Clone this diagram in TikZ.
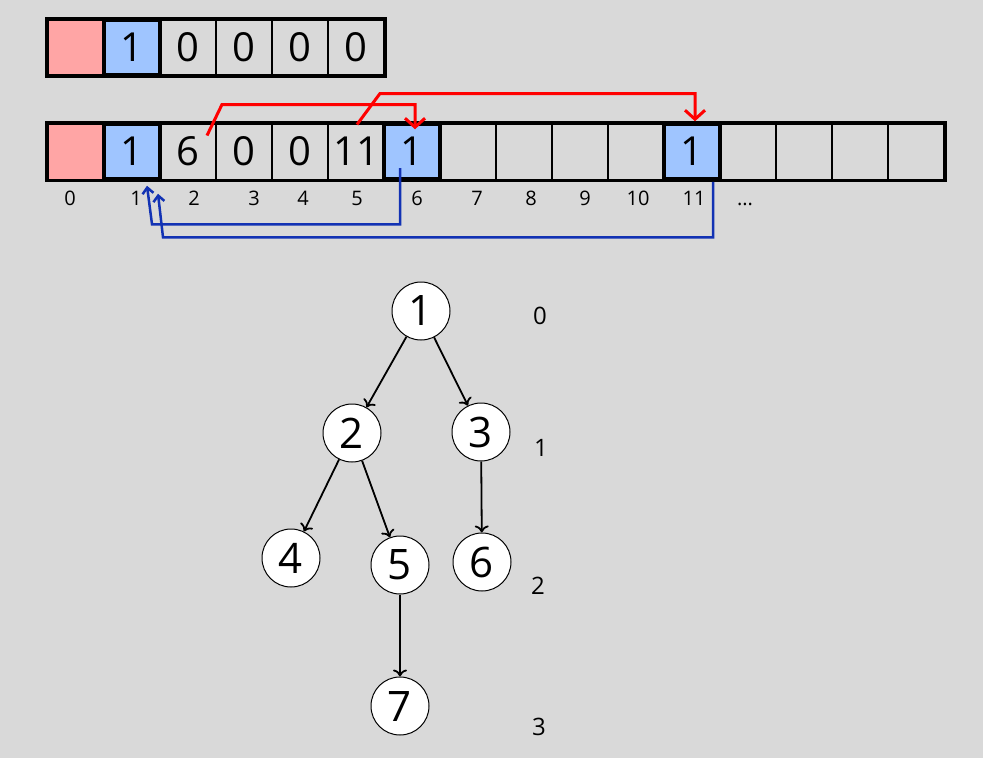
\documentclass[tikz,border=0pt]{standalone}
\usepackage{fontspec}
\setmainfont{Open Sans}
\usepackage{tikz}
\usetikzlibrary{arrows.meta,positioning,calc}
\definecolor{cbg}{HTML}{D9D9D9}
\definecolor{cfree}{HTML}{FFA5A5}
\definecolor{cset}{HTML}{9FC5FF}
\definecolor{cfwd}{HTML}{FF0000}
\definecolor{cback}{HTML}{1232B4}
\tikzset{
  cell/.style={draw, line width=2pt, minimum width=56pt, minimum height=56pt,
               inner sep=0pt, font=\fontsize{40}{41}\selectfont},
  freecell/.style={cell, fill=cfree},
  setcell/.style={cell, fill=cset, line width=4.5pt},
  idx/.style={font=\fontsize{20}{21}\selectfont},
  tnode/.style={circle, draw, fill=white, line width=1pt, minimum size=58pt,
                inner sep=0pt, font=\fontsize{42}{43}\selectfont},
  lvl/.style={font=\fontsize{24}{25}\selectfont},
  fwd/.style={-{Straight Barb[length=9pt,width=20pt]}, draw=cfwd, line width=3pt},
  back/.style={-{Straight Barb[length=6pt,width=11pt]}, draw=cback, line width=2.5pt},
  tedge/.style={-{To[length=7pt,width=14pt]}, line width=1.8pt},
}
\begin{document}
\begin{tikzpicture}[x=1pt, y=-1pt]
  \path[use as bounding box, fill=cbg] (0,0) rectangle (983,758);
  % short array
  \foreach \i/\v/\s in {0/{}/freecell, 1/1/setcell, 2/0/cell, 3/0/cell, 4/0/cell, 5/0/cell}
    \node[\s, minimum height=55pt] (t\i) at (76+56*\i, 47.5) {\v};
  \draw[line width=3.5pt] (t0.north west) rectangle (t5.south east);
  % grown array
  \foreach \i/\v/\s in {0/{}/freecell, 1/1/setcell, 2/6/cell, 3/0/cell, 4/0/cell, 5/11/cell,
                        6/1/setcell, 7/{}/cell, 8/{}/cell, 9/{}/cell, 10/{}/cell, 11/1/setcell,
                        12/{}/cell, 13/{}/cell, 14/{}/cell, 15/{}/cell}
    \node[\s] (c\i) at (76+56*\i, 151.5) {\v};
  \draw[line width=3.5pt] (c0.north west) rectangle (c15.south east);
  \foreach \i/\x in {0/70, 1/136, 2/194, 3/254, 4/303, 5/357, 6/417, 7/477, 8/531, 9/585, 10/638, 11/694}
    \node[idx] (idx\i) at (\x,198) {\i};
  \node[idx] (idxmore) at (745,204) {...};
  % pointers
  \draw[fwd] ($(c2)+(19,-16)$) -- ++(15,-31) -| ($(c6.north)+(3,8)$);
  \draw[fwd] ($(c5.north)+(1,2)$) -- ++(23,-31) -| ($(c11.north)+(3,0)$);
  \draw[back] ($(c6)+(-12,16.5)$) |- ($(c1.south)+(20,42.5)$) -- ($(c1.south)+(15,4)$);
  \draw[back] ($(c11.south)+(21,0)$) |- ($(c1.south)+(31,55.5)$) -- ($(c1.south)+(26,12)$);
  % tree
  \node[tnode] (n1) at (421,311) {1};
  \node[tnode] (n2) at (352,433) {2};
  \node[tnode] (n3) at (481,432) {3};
  \node[tnode] (n4) at (291,558) {4};
  \node[tnode] (n5) at (400,565) {5};
  \node[tnode] (n6) at (482,562) {6};
  \node[tnode] (n7) at (400,706) {7};
  \draw[tedge] (n1) -- (n2); \draw[tedge] (n1) -- (n3);
  \draw[tedge] (n2) -- (n4); \draw[tedge] (n2) -- (n5);
  \draw[tedge] (n3) -- (n6); \draw[tedge] (n5) -- (n7);
  \node[lvl] (lv0) at (540,316) {0};
  \node[lvl] (lv1) at (541,448) {1};
  \node[lvl] (lv2) at (538,586) {2};
  \node[lvl] (lv3) at (539,727) {3};
\end{tikzpicture}
\end{document}
